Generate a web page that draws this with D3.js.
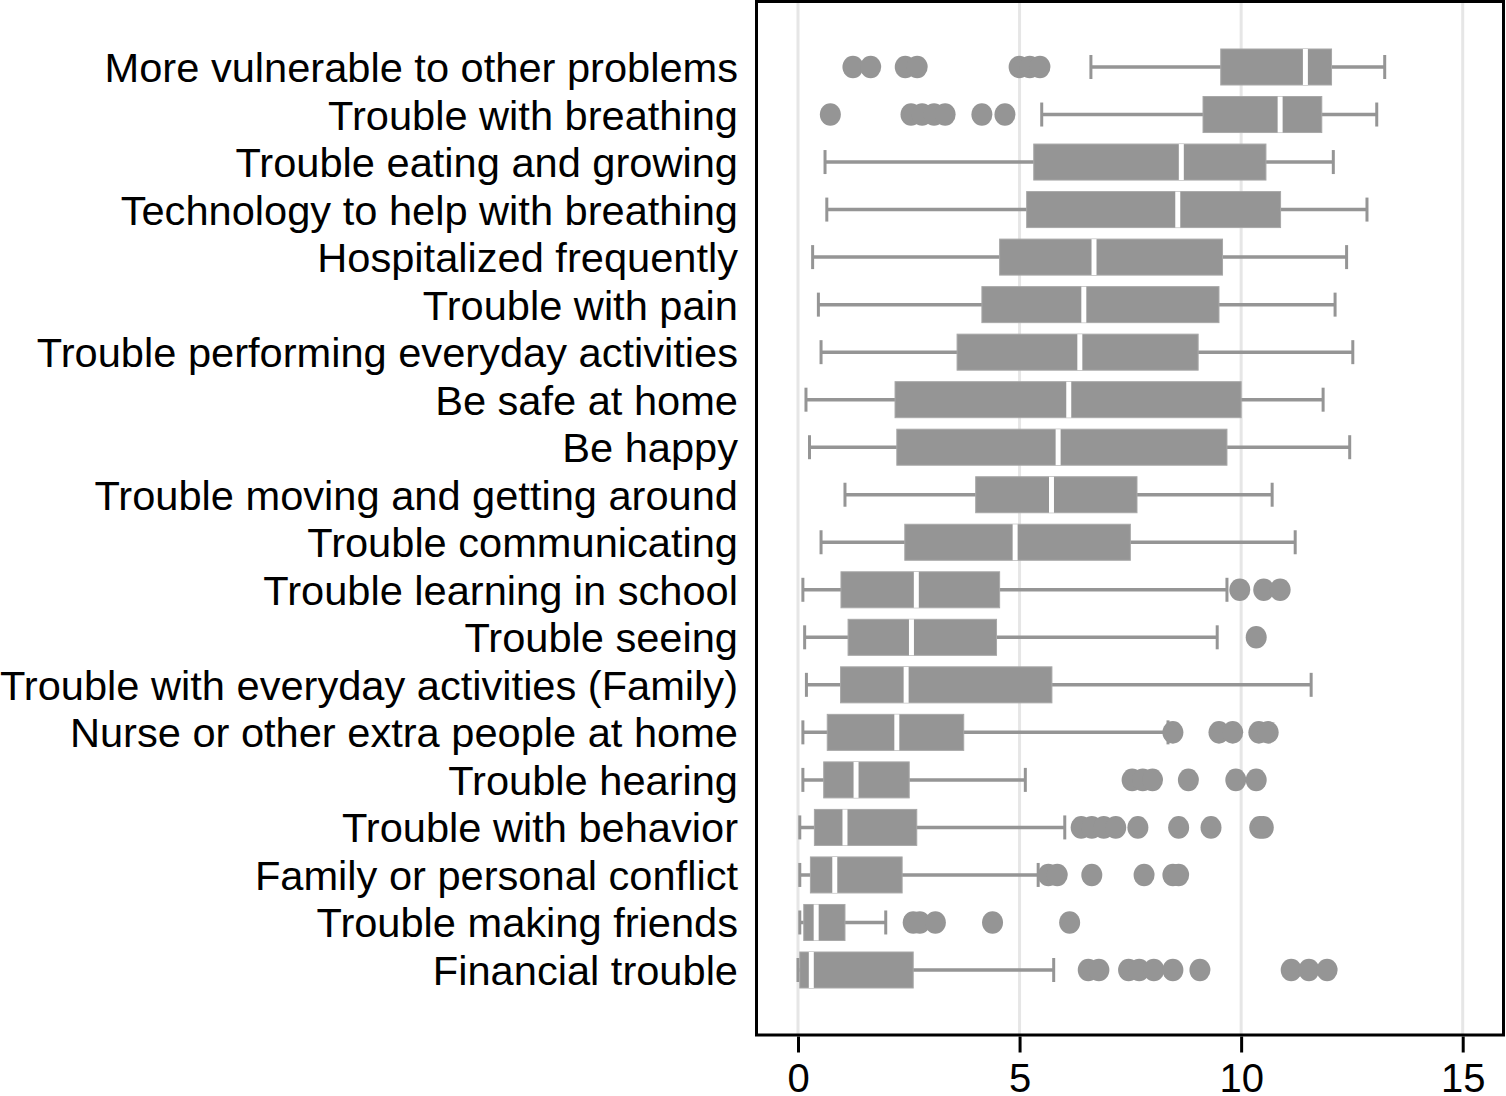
<!DOCTYPE html>
<html>
<head>
<meta charset="utf-8">
<script src="https://cdn.jsdelivr.net/npm/d3@7"></script>
<style>
  body { margin: 0; background: #fff; }
  text { font-family: "Liberation Sans", Arial, Helvetica, sans-serif; }
</style>
</head>
<body>
<div class="boxChart"></div>
<script>
// categories top to bottom
var categories = [
  "More vulnerable to other problems",
  "Trouble with breathing",
  "Trouble eating and growing",
  "Technology to help with breathing",
  "Hospitalized frequently",
  "Trouble with pain",
  "Trouble performing everyday activities",
  "Be safe at home",
  "Be happy",
  "Trouble moving and getting around",
  "Trouble communicating",
  "Trouble learning in school",
  "Trouble seeing",
  "Trouble with everyday activities (Family)",
  "Nurse or other extra people at home",
  "Trouble hearing",
  "Trouble with behavior",
  "Family or personal conflict",
  "Trouble making friends",
  "Financial trouble"
];

var whiskerLow  = [6.61, 5.50, 0.61, 0.65, 0.33, 0.46, 0.52, 0.18, 0.26, 1.06, 0.52, 0.11, 0.15, 0.19, 0.11, 0.11, 0.04, 0.04, 0.04, 0.00];
var q1          = [9.54, 9.14, 5.32, 5.16, 4.55, 4.15, 3.59, 2.19, 2.23, 4.01, 2.41, 0.97, 1.13, 0.96, 0.66, 0.58, 0.37, 0.28, 0.13, 0.04];
var medians     = [11.45, 10.88, 8.65, 8.57, 6.68, 6.45, 6.36, 6.11, 5.87, 5.72, 4.90, 2.67, 2.56, 2.44, 2.23, 1.31, 1.06, 0.83, 0.41, 0.30];
var q3          = [12.04, 11.82, 10.56, 10.89, 9.58, 9.50, 9.03, 10.0, 9.68, 7.65, 7.50, 4.55, 4.48, 5.73, 3.74, 2.51, 2.68, 2.35, 1.06, 2.60];
var whiskerHigh = [13.24, 13.06, 12.08, 12.84, 12.38, 12.12, 12.52, 11.85, 12.45, 10.70, 11.22, 9.68, 9.46, 11.58, 8.35, 5.13, 6.02, 5.42, 1.98, 5.77];

var outliers = [
  [1.24, 1.64, 2.42, 2.69, 4.99, 5.23, 5.46],
  [0.73, 2.55, 2.80, 3.07, 3.32, 4.15, 4.67],
  [], [], [], [], [], [], [], [], [],
  [9.97, 10.51, 10.88],
  [10.34],
  [],
  [8.46, 9.50, 9.81, 10.40, 10.61],
  [7.54, 7.78, 8.00, 8.81, 9.88, 10.34],
  [6.39, 6.63, 6.90, 7.17, 7.67, 8.59, 9.32, 10.42, 10.50],
  [5.65, 5.85, 6.63, 7.81, 8.46, 8.59],
  [2.60, 2.75, 3.10, 4.39, 6.13],
  [6.55, 6.79, 7.46, 7.70, 8.03, 8.46, 9.07, 11.13, 11.53, 11.94]
];

var xTicks = [0, 5, 10, 15];

plotBoxChart();

function plotBoxChart(){
  var width = 1506, height = 1096;
  var frame = {left: 756.5, right: 1503.5, top: 1.5, bottom: 1035};
  var grey = "#959595";

  var svg = d3.select(".boxChart")
              .append("svg")
              .attr("width", width)
              .attr("height", height);

  var x = d3.scaleLinear().domain([0, 15]).range([798, 1462.7]);
  var y = d3.scalePoint().domain(categories).range([67, 970]);

  // gridlines
  svg.append("g").selectAll("line")
    .data(xTicks)
    .enter().append("line")
    .attr("x1", function(d){ return x(d); })
    .attr("x2", function(d){ return x(d); })
    .attr("y1", frame.top)
    .attr("y2", frame.bottom)
    .attr("stroke", "#e6e6e6")
    .attr("stroke-width", 3);

  var rows = svg.append("g").selectAll("g")
    .data(categories)
    .enter().append("g")
    .attr("transform", function(d){ return "translate(0," + y(d) + ")"; });

  // whisker lines
  rows.append("line")
    .attr("x1", function(d, i){ return x(whiskerLow[i]); })
    .attr("x2", function(d, i){ return x(whiskerHigh[i]); })
    .attr("stroke", grey)
    .attr("stroke-width", 3.5);

  // whisker caps
  [whiskerLow, whiskerHigh].forEach(function(arr){
    rows.append("line")
      .attr("x1", function(d, i){ return x(arr[i]); })
      .attr("x2", function(d, i){ return x(arr[i]); })
      .attr("y1", -12)
      .attr("y2", 12)
      .attr("stroke", grey)
      .attr("stroke-width", 3);
  });

  // boxes
  rows.append("rect")
    .attr("x", function(d, i){ return x(q1[i]); })
    .attr("width", function(d, i){ return x(q3[i]) - x(q1[i]); })
    .attr("y", -18)
    .attr("height", 36)
    .attr("fill", grey)
    .attr("stroke", "#a8a8a8")
    .attr("stroke-width", 1);

  // medians
  rows.append("line")
    .attr("x1", function(d, i){ return x(medians[i]); })
    .attr("x2", function(d, i){ return x(medians[i]); })
    .attr("y1", -18)
    .attr("y2", 18)
    .attr("stroke", "#fff")
    .attr("stroke-width", 5);

  // outliers
  rows.selectAll("ellipse")
    .data(function(d, i){ return outliers[i]; })
    .enter().append("ellipse")
    .attr("cx", function(v){ return x(v); })
    .attr("cy", 0)
    .attr("rx", 10.5)
    .attr("ry", 11.3)
    .attr("fill", grey);

  // category labels (slightly wider face than Arial in the original)
  svg.append("g").selectAll("text")
    .data(categories)
    .enter().append("text")
    .attr("transform", function(d){ return "translate(738," + (y(d) + 15) + ") scale(1.04,1)"; })
    .attr("text-anchor", "end")
    .style("font-size", "40px")
    .attr("fill", "#000")
    .text(function(d){ return d; });

  // frame
  svg.append("rect")
    .attr("x", frame.left)
    .attr("y", frame.top)
    .attr("width", frame.right - frame.left)
    .attr("height", frame.bottom - frame.top)
    .attr("fill", "none")
    .attr("stroke", "#000")
    .attr("stroke-width", 3);

  // x axis
  var xAxis = d3.axisBottom(x).tickValues(xTicks).tickSize(16).tickPadding(11).tickFormat(d3.format("d"));
  var ax = svg.append("g")
    .attr("transform", "translate(0," + (frame.bottom + 1.5) + ")")
    .call(xAxis);
  ax.select(".domain").remove();
  ax.selectAll(".tick line").attr("stroke", "#000").attr("stroke-width", 3);
  ax.selectAll(".tick text")
    .attr("fill", "#000")
    .style("font-size", "40px")
    .style("font-family", "'Liberation Sans', Arial, sans-serif");
}
</script>
</body>
</html>
